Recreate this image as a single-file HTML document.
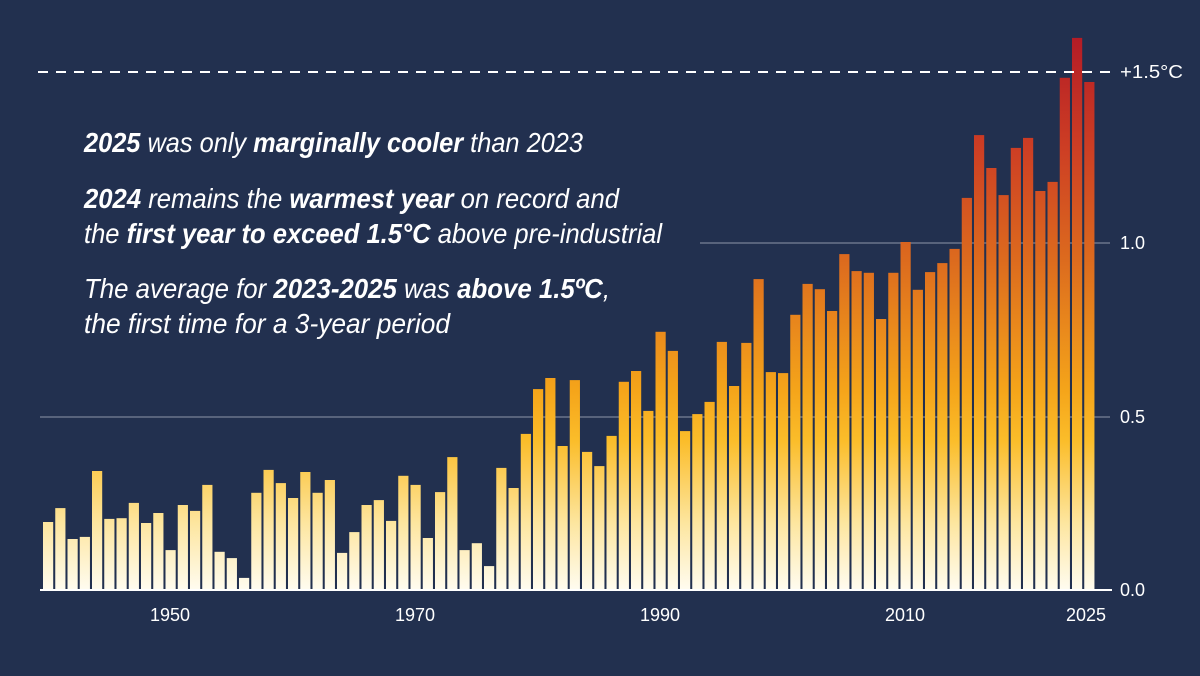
<!DOCTYPE html>
<html><head><meta charset="utf-8"><style>
html,body{margin:0;padding:0;background:#22304f;}
svg{display:block}
text{font-family:"Liberation Sans",sans-serif;fill:#fff}
</style></head><body>
<svg id="c" width="1200" height="676" viewBox="0 0 1200 676" xmlns="http://www.w3.org/2000/svg">
<defs>
<linearGradient id="g" gradientUnits="userSpaceOnUse" x1="0" y1="590" x2="0" y2="38">
<stop offset="0" stop-color="#fffcf0"/>
<stop offset="0.12" stop-color="#fde6a0"/>
<stop offset="0.27" stop-color="#fbbd2a"/>
<stop offset="0.36" stop-color="#f5a51a"/>
<stop offset="0.6" stop-color="#dc6a1e"/>
<stop offset="0.8" stop-color="#cd3e24"/>
<stop offset="1" stop-color="#b41c26"/>
</linearGradient>
</defs>
<rect width="1200" height="676" fill="#22304f"/>
<line x1="40" y1="417" x2="1110" y2="417" stroke="#8d96aa" stroke-width="1"/>
<line x1="700" y1="243" x2="1110" y2="243" stroke="#8d96aa" stroke-width="1"/>
<g id="bars"></g>
<line x1="38" y1="72" x2="1112" y2="72" stroke="#fff" stroke-width="2" stroke-dasharray="10,8"/>
<line x1="40" y1="590" x2="1112" y2="590" stroke="#fff" stroke-width="2"/>
<text x="1120" y="78" font-size="18" textLength="63" lengthAdjust="spacingAndGlyphs">+1.5°C</text>
<text x="1120" y="249" font-size="18">1.0</text>
<text x="1120" y="423" font-size="18">0.5</text>
<text x="1120" y="596" font-size="18">0.0</text>
<g font-size="18" text-anchor="middle">
<text x="170" y="621">1950</text><text x="415" y="621">1970</text><text x="660" y="621">1990</text><text x="905" y="621">2010</text><text x="1086" y="621">2025</text>
</g>
<g font-size="28" font-style="italic">
<text x="84" y="152" textLength="499" lengthAdjust="spacingAndGlyphs"><tspan font-weight="bold">2025</tspan> was only <tspan font-weight="bold">marginally cooler</tspan> than 2023</text>
<text x="84" y="208" textLength="535" lengthAdjust="spacingAndGlyphs"><tspan font-weight="bold">2024</tspan> remains the <tspan font-weight="bold">warmest year</tspan> on record and</text>
<text x="84" y="243" textLength="578" lengthAdjust="spacingAndGlyphs">the <tspan font-weight="bold">first year to exceed 1.5°C</tspan> above pre-industrial</text>
<text x="84" y="298" textLength="526" lengthAdjust="spacingAndGlyphs">The average for <tspan font-weight="bold">2023-2025</tspan> was <tspan font-weight="bold">above 1.5ºC</tspan>,</text>
<text x="84" y="333" textLength="366" lengthAdjust="spacingAndGlyphs">the first time for a 3-year period</text>
</g>
</svg>
<script>
var v=[0.196,0.236,0.147,0.153,0.343,0.205,0.207,0.251,0.193,0.222,0.115,0.245,0.228,0.303,0.11,0.092,0.035,0.28,0.346,0.308,0.265,0.34,0.28,0.317,0.107,0.167,0.245,0.259,0.199,0.329,0.303,0.15,0.282,0.383,0.115,0.135,0.069,0.352,0.294,0.45,0.579,0.611,0.415,0.605,0.398,0.357,0.444,0.6,0.631,0.516,0.744,0.689,0.458,0.507,0.542,0.715,0.588,0.712,0.896,0.628,0.625,0.793,0.882,0.867,0.804,0.968,0.919,0.914,0.781,0.914,1.003,0.865,0.916,0.942,0.983,1.13,1.311,1.216,1.138,1.274,1.303,1.15,1.176,1.476,1.591,1.464];
var g=document.getElementById('bars'),s='';
for(var i=0;i<v.length;i++){var h=v[i]*347,x=43+i*12.25;s+='<rect x="'+x.toFixed(2)+'" y="'+(590-h).toFixed(1)+'" width="10.2" height="'+h.toFixed(1)+'" fill="url(#g)"/>';}
g.innerHTML=s;
</script>
</body></html>
